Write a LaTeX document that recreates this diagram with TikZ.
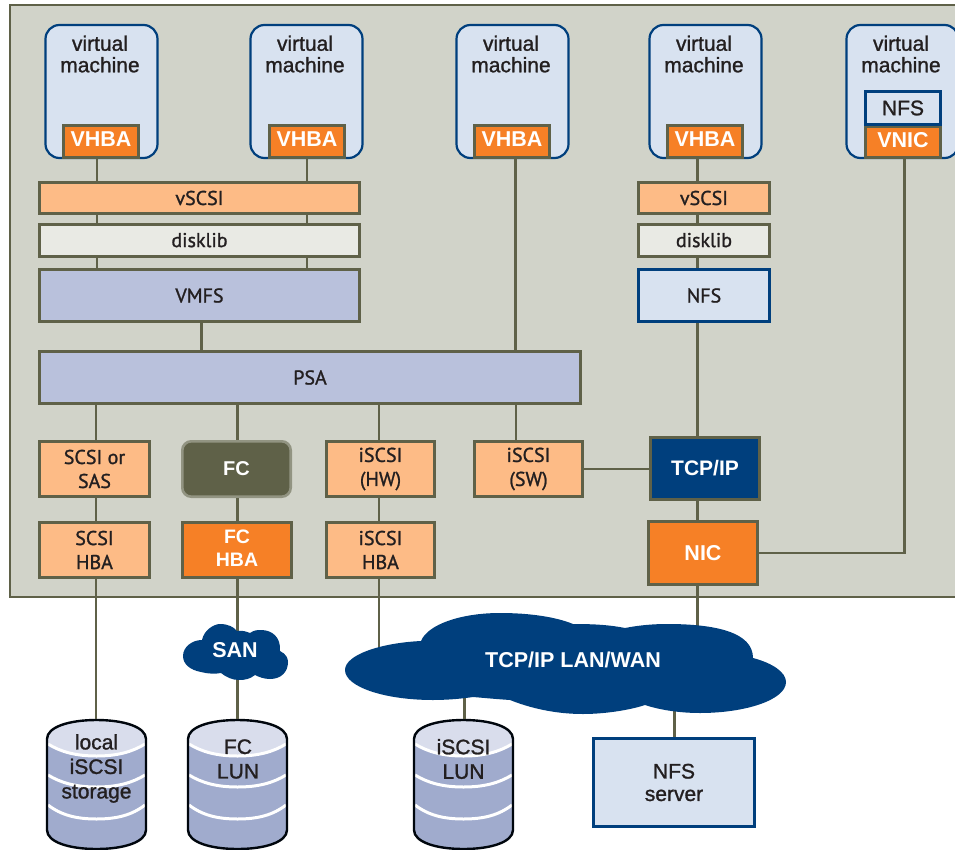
\documentclass[tikz,border=0pt]{standalone}
\usepackage{fontspec}
\setmainfont[BoldFont={Liberation Sans Bold}]{Liberation Sans}
\newfontfamily\arialheavy[FakeBold=1.2]{Liberation Sans}
\newfontfamily\myriad[FakeBold=1.2]{PT Sans}
\definecolor{panel}{HTML}{D1D3C9}
\definecolor{edge}{HTML}{5F6148}
\definecolor{navy}{HTML}{003F7D}
\definecolor{pale}{HTML}{D8E2F0}
\definecolor{peach}{HTML}{FDBB86}
\definecolor{orange}{HTML}{F68026}
\definecolor{offwhite}{HTML}{E9EAE4}
\definecolor{lav}{HTML}{B9C1DC}
\definecolor{disktop}{HTML}{D9DDEC}
\definecolor{diskbody}{HTML}{A0ABCD}
\definecolor{ink}{HTML}{231F20}
\tikzset{
  x=1pt,y=-1pt,
  box/.style={draw=edge,line width=2.6pt,inner sep=0pt,align=center,text=ink,
    font=\myriad\fontsize{20}{24}\selectfont},
  peachbox/.style={box,fill=peach},
  whitebox/.style={box,fill=offwhite},
  lavbox/.style={box,fill=lav},
  orangebox/.style={box,fill=orange,text=white,font=\bfseries\fontsize{21.5}{23}\selectfont},
  smallorange/.style={orangebox,font=\bfseries\fontsize{19.5}{23}\selectfont},
  bluebox/.style={box,fill=pale,draw=navy},
  navybox/.style={box,fill=navy,text=white,font=\bfseries\fontsize{21}{22}\selectfont},
  fcbox/.style={box,fill=edge,draw=edge!55!panel,rounded corners=9pt,text=white,font=\bfseries\fontsize{20}{22}\selectfont},
  vmbox/.style={draw=navy,fill=pale,line width=2.2pt,rounded corners=14pt},
  vmtext/.style={inner sep=0pt,align=center,text=ink,font=\arialheavy\fontsize{21}{21.5}\selectfont},
  disktext/.style={inner sep=0pt,align=center,text=ink,font=\arialheavy\fontsize{21}{24.5}\selectfont},
  cloudtext/.style={inner sep=0pt,text=white,font=\bfseries\fontsize{21.5}{22}\selectfont},
  wire/.style={draw=edge,line width=2.6pt},
  band/.style={draw=white,line width=3pt},
  cloudfill/.style={fill=navy,draw=none},
  diskline/.style={draw=black!90!navy,line width=2.4pt},
}
\newcommand{\bx}[7][]{%
  \pgfmathsetmacro{\bxw}{#5-#3-2.6}\pgfmathsetmacro{\bxh}{#6-#4-2.6}%
  \pgfmathsetmacro{\bxx}{(#3+#5)/2}\pgfmathsetmacro{\bxy}{(#4+#6)/2}%
  \node[#1,minimum width=\bxw pt,minimum height=\bxh pt] (#2) at (\bxx,\bxy) {#7};}
\newcommand{\vmachine}[2]{%
  \draw[vmbox] (#2,25) rectangle (#2+112,158);
  \node[vmtext] (#1) at (#2+54.5,54) {virtual\\machine};}
\newcommand{\lundisk}[2]{%
  \begin{scope}[shift={(#2,0)}]
    \path[fill=diskbody] (0,739) .. controls (0,727) and (22,720) .. (49.5,720)
       .. controls (77,720) and (99,727) .. (99,739) -- (99,830)
       .. controls (99,842) and (77,849) .. (49.5,849)
       .. controls (22,849) and (0,842) .. (0,830) -- cycle;
    \path[fill=disktop] (0,739) .. controls (0,727) and (22,720) .. (49.5,720)
       .. controls (77,720) and (99,727) .. (99,739) -- (99,744)
       .. controls (85,752) and (70,756) .. (49.5,756)
       .. controls (29,756) and (14,752) .. (0,744) -- cycle;
    \draw[band] (1,744) .. controls (14,752) and (29,756) .. (49.5,756) .. controls (70,756) and (85,752) .. (98,744);
    \draw[band] (1,775) .. controls (14,783) and (29,787) .. (49.5,787) .. controls (70,787) and (85,783) .. (98,775);
    \draw[band] (1,805) .. controls (14,815) and (29,819) .. (49.5,819) .. controls (70,819) and (85,815) .. (98,805);
    \draw[diskline] (0,739) .. controls (0,727) and (22,720) .. (49.5,720)
       .. controls (77,720) and (99,727) .. (99,739) -- (99,830)
       .. controls (99,842) and (77,849) .. (49.5,849)
       .. controls (22,849) and (0,842) .. (0,830) -- cycle;
    \coordinate (#1) at (49.5,719);
  \end{scope}}
\begin{document}
\begin{tikzpicture}
\useasboundingbox (0,0) rectangle (955,850);
\clip (0,0) rectangle (955,850);
\fill[white] (0,0) rectangle (955,850);
\draw[wire,fill=panel] (10,5) rectangle (975,597);

% wire columns
\coordinate (cA) at (97,0);
\coordinate (cB) at (307,0);
\coordinate (cC) at (515.5,0);
\coordinate (cD) at (697.5,0);
\coordinate (cE) at (904.5,0);
\coordinate (cF) at (201.5,0);
\coordinate (pA) at (96,0);
\coordinate (pB) at (237.5,0);
\coordinate (pC) at (379,0);
\coordinate (pD) at (516,0);

% virtual machines
\vmachine{vmA}{45.5}
\vmachine{vmB}{250.5}
\vmachine{vmC}{456.5}
\vmachine{vmD}{649.5}
\vmachine{vmE}{846.5}

\bx[orangebox]{vhbaA}{62}{124}{140}{159}{\raisebox{4pt}{VHBA}}
\bx[orangebox]{vhbaB}{268}{124}{346}{159}{\raisebox{4pt}{VHBA}}
\bx[orangebox]{vhbaC}{473}{124}{551}{159}{\raisebox{4pt}{VHBA}}
\bx[orangebox]{vhbaD}{666}{124}{744}{159}{\raisebox{4pt}{VHBA}}
\bx[orangebox]{vnic}{864}{125}{942}{159}{\raisebox{4pt}{VNIC}}
\bx[bluebox,font=\arialheavy\fontsize{21}{22}\selectfont]{nfsvm}{864}{90}{942}{126}{NFS}

\bx[peachbox]{vscsiL}{38}{181}{361}{215}{vSCSI}
\bx[whitebox]{diskL}{38}{223}{361}{258}{\raisebox{1pt}{disklib}}
\bx[lavbox]{vmfs}{38}{268}{361}{323}{\raisebox{-2pt}{VMFS}}
\bx[peachbox]{vscsiR}{637}{181}{771}{215}{vSCSI}
\bx[whitebox]{diskR}{637}{223}{771}{258}{\raisebox{1pt}{disklib}}
\bx[bluebox]{nfsR}{637}{268}{771}{323}{\raisebox{-2pt}{NFS}}
\bx[lavbox]{psa}{38}{350}{582}{405}{\raisebox{-1pt}{PSA}}

\bx[peachbox]{scsi}{38}{440}{151}{498}{SCSI or\\SAS}
\bx[fcbox]{fc}{181}{440}{292}{498}{FC}
\bx[peachbox]{hw}{325}{440}{436}{498}{iSCSI\\(HW)}
\bx[peachbox]{sw}{473}{440}{584}{498}{iSCSI\\(SW)}
\bx[navybox]{tcp}{649}{436}{761}{501}{TCP/IP}
\bx[peachbox]{hbaA}{38}{521}{151}{579}{SCSI\\HBA}
\bx[smallorange]{hbaB}{181}{521}{293}{579}{\raisebox{1.5pt}{\begin{tabular}{@{}c@{}}FC\\HBA\end{tabular}}}
\bx[peachbox]{hbaC}{325}{521}{436}{579}{iSCSI\\HBA}
\bx[orangebox]{nic}{647}{520}{759}{586}{NIC}

\bx[bluebox,font=\arialheavy\fontsize{21}{22.5}\selectfont]{nfssrv}{592}{737}{756}{828}{NFS\\server}

% disks
\lundisk{lunA}{47}
\lundisk{lunB}{188}
\lundisk{lunC}{414}
\node[disktext] (lunAlabel) at (96.5,768.5) {local\\iSCSI\\storage};
\node[disktext] (lunBlabel) at (238,759) {FC\\LUN};
\node[disktext] (lunClabel) at (463.5,759) {iSCSI\\LUN};

% free ends inside clouds
\coordinate (sanTop) at (237.5,640);
\coordinate (sanBot) at (237.5,670);
\coordinate (lanLeft) at (379,660);
\coordinate (lanTop) at (697.5,640);
\coordinate (lanBot1) at (464.5,690);
\coordinate (lanBot2) at (674.5,700);

% connectors
\foreach \c in {cA,cB}{
  \draw[wire] (\c |- vhbaA.south) -- (\c |- vscsiL.north);
  \draw[wire] (\c |- vscsiL.south) -- (\c |- diskL.north);
  \draw[wire] (\c |- diskL.south) -- (\c |- vmfs.north);
}
\draw[wire] (cF |- vmfs.south) -- (cF |- psa.north);
\draw[wire] (cC |- vhbaC.south) -- (cC |- psa.north);
\draw[wire] (cD |- vhbaD.south) -- (cD |- vscsiR.north);
\draw[wire] (cD |- vscsiR.south) -- (cD |- diskR.north);
\draw[wire] (cD |- diskR.south) -- (cD |- nfsR.north);
\draw[wire] (cD |- nfsR.south) -- (cD |- tcp.north);
\draw[wire] (cD |- tcp.south) -- (cD |- nic.north);
\draw[wire] (cD |- nic.south) -- (lanTop);
\draw[wire] (cE |- vnic.south) -- (cE |- nic.east) -- (nic.east);
\draw[wire] (sw.east) -- (sw.east -| tcp.west);
\draw[wire] (pA |- psa.south) -- (pA |- scsi.north);
\draw[wire] (pB |- psa.south) -- (pB |- fc.north);
\draw[wire] (pC |- psa.south) -- (pC |- hw.north);
\draw[wire] (pD |- psa.south) -- (pD |- sw.north);
\draw[wire] (pA |- scsi.south) -- (pA |- hbaA.north);
\draw[wire] (pB |- fc.south) -- (pB |- hbaB.north);
\draw[wire] (pC |- hw.south) -- (pC |- hbaC.north);
\draw[wire] (pA |- hbaA.south) -- (pA |- lunA);
\draw[wire] (pB |- hbaB.south) -- (sanTop);
\draw[wire] (sanBot) -- (sanBot |- lunB);
\draw[wire] (pC |- hbaC.south) -- (lanLeft);
\draw[wire] (lanBot1) -- (lanBot1 |- lunC);
\draw[wire] (lanBot2) -- (lanBot2 |- nfssrv.north);

% clouds
\fill[cloudfill] (202,640)
  .. controls (204,630) and (214,624) .. (220,624)
  .. controls (228,624) and (234,627) .. (237,631)
  .. controls (243,630) and (247,632) .. (250,633)
  .. controls (254,630) and (258,630) .. (261,630)
  .. controls (272,630) and (281,637) .. (280,651)
  .. controls (286,654) and (288,658) .. (288,662)
  .. controls (288,672) and (281,679) .. (270,679)
  .. controls (264,679) and (259,677) .. (255,675)
  .. controls (250,679) and (245,680) .. (239,680)
  .. controls (232,680) and (226,677) .. (221,673)
  .. controls (216,674) and (208,674) .. (201,672)
  .. controls (190,670) and (183,664) .. (183,656)
  .. controls (183,647) and (192,640) .. (202,640) -- cycle;
\node[cloudtext] (san) at (235,650) {SAN};

\fill[cloudfill] (421,641)
  .. controls (428,624) and (462,613) .. (500,613)
  .. controls (530,613) and (556,617) .. (573,624)
  .. controls (595,624) and (610,625) .. (625,628)
  .. controls (640,625) and (655,624) .. (667,624)
  .. controls (715,624) and (753,632) .. (753,658)
  .. controls (772,663) and (786,672) .. (786,682)
  .. controls (786,700) and (745,713) .. (700,713)
  .. controls (680,713) and (660,710) .. (645,705)
  .. controls (630,710) and (605,714) .. (583,714)
  .. controls (555,714) and (530,708) .. (510,700)
  .. controls (495,699) and (485,698) .. (473,697)
  .. controls (460,699) and (445,700) .. (433,700)
  .. controls (385,700) and (345,687) .. (345,670)
  .. controls (345,655) and (380,643) .. (421,641) -- cycle;
\node[cloudtext] (lan) at (573,660) {TCP/IP LAN/WAN};
\end{tikzpicture}
\end{document}
